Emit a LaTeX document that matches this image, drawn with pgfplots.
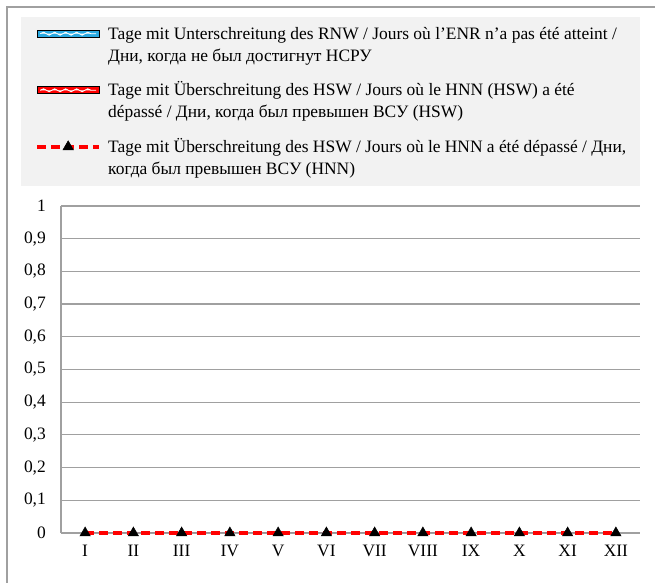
\documentclass[border=0pt]{standalone}
\usepackage{fontspec}
\setmainfont{Liberation Serif}
\usepackage{pgfplots}
\pgfplotsset{compat=1.18}
\usetikzlibrary{decorations.pathmorphing}
\definecolor{legbg}{HTML}{F2F2F2}
\definecolor{gridgray}{HTML}{A0A0A0}
\definecolor{skyb}{HTML}{29A9E1}
\definecolor{redd}{HTML}{FF0000}
\begin{document}
\begin{tikzpicture}[x=1bp,y=1bp]
\useasboundingbox (0,0) rectangle (655,583);
\draw[gridgray, line width=1.5bp] (7,0) -- (7,576) -- (655,576);
\begin{axis}[
  at={(61bp,50bp)}, anchor=south west,
  scale only axis, width=579bp, height=327bp,
  xmin=0, xmax=12, ymin=0, ymax=1,
  axis x line*=bottom, axis y line*=left,
  axis line style={gridgray, line width=1.2bp, -},
  major tick length=0pt,
  ymajorgrids, grid style={gridgray, line width=1.2bp},
  ytick={0,0.1,0.2,0.3,0.4,0.5,0.6,0.7,0.8,0.9,1},
  yticklabels={0,{0,1},{0,2},{0,3},{0,4},{0,5},{0,6},{0,7},{0,8},{0,9},1},
  xtick={0.5,1.5,2.5,3.5,4.5,5.5,6.5,7.5,8.5,9.5,10.5,11.5},
  xticklabels={I,II,III,IV,V,VI,VII,VIII,IX,X,XI,XII},
  yticklabel style={inner sep=0pt, anchor=east, xshift=-15bp},
  xticklabel style={inner sep=0pt, anchor=north, yshift=-12bp},
  tick label style={font=\fontsize{17.5}{20}\selectfont},
  legend style={at={(-0.0691,1.578)}, anchor=north west,
    fill=legbg, draw=none, inner xsep=14bp, inner ysep=10bp,
    row sep=19bp, column sep=7bp,
    nodes={inner sep=0pt, anchor=base west},
    font=\fontsize{17.5}{22}\selectfont},
  legend cell align=left,
  clip=false,
]
\addplot[draw=none, fill=skyb,
  legend image code/.code={
    \draw[fill=skyb, draw=black, line width=0.9bp] (0bp,24bp) rectangle (62bp,31bp);
    \draw[white, line width=0.8bp, decorate, decoration={snake, amplitude=1.5bp, segment length=11bp}] (3bp,27.5bp) -- (59bp,27.5bp);
  }] coordinates {(0.5,0) (1.5,0) (2.5,0) (3.5,0) (4.5,0) (5.5,0) (6.5,0) (7.5,0) (8.5,0) (9.5,0) (10.5,0) (11.5,0)} \closedcycle;
\addlegendentry{\parbox[b]{518bp}{Tage mit Unterschreitung des RNW / Jours où l’ENR n’a pas été atteint /\\Дни, когда не был достигнут НСРУ}}
\addplot[draw=none, fill=redd,
  legend image code/.code={
    \draw[fill=redd, draw=black, line width=0.9bp] (0bp,24bp) rectangle (62bp,31bp);
    \draw[white, line width=0.8bp, decorate, decoration={snake, amplitude=1.5bp, segment length=11bp}] (3bp,27.5bp) -- (59bp,27.5bp);
  }] coordinates {(0.5,0) (1.5,0) (2.5,0) (3.5,0) (4.5,0) (5.5,0) (6.5,0) (7.5,0) (8.5,0) (9.5,0) (10.5,0) (11.5,0)} \closedcycle;
\addlegendentry{\parbox[b]{518bp}{Tage mit Überschreitung des HSW / Jours où le HNN (HSW) a été\\dépassé / Дни, когда был превышен ВСУ (HSW)}}
\addplot[redd, line width=4bp, dash pattern=on 9bp off 5bp,
  mark=triangle*, mark size=6bp, mark options={solid, fill=black, draw=black, line width=0.5bp},
  legend image code/.code={
    \draw[mark repeat=2, mark phase=2] plot coordinates {(0bp,27.5bp) (31bp,27.5bp) (62bp,27.5bp)};
  }] coordinates {(0.5,0) (1.5,0) (2.5,0) (3.5,0) (4.5,0) (5.5,0) (6.5,0) (7.5,0) (8.5,0) (9.5,0) (10.5,0) (11.5,0)};
\addlegendentry{\parbox[b]{518bp}{Tage mit Überschreitung des HSW / Jours où le HNN a été dépassé / Дни,\\когда был превышен ВСУ (HNN)}}
\end{axis}
\end{tikzpicture}
\end{document}
